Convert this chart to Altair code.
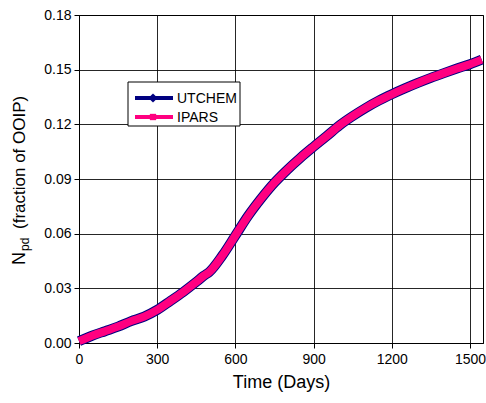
import altair as alt
import pandas as pd

# ---- data ----
time_days = [0, 50, 100, 150, 200, 250, 300, 350, 400, 450, 480, 500, 550, 600, 650,
             700, 750, 800, 850, 900, 950, 1000, 1050, 1100, 1150, 1200, 1250, 1300,
             1350, 1400, 1450, 1500, 1545]
utchem = [0.001, 0.004, 0.0065, 0.009, 0.012, 0.0145, 0.0182, 0.023, 0.028, 0.0335, 0.037,
          0.039, 0.048, 0.059, 0.070, 0.0795, 0.088, 0.0952, 0.1017, 0.1077, 0.1135, 0.1195,
          0.1245, 0.129, 0.133, 0.1365, 0.1397, 0.1427, 0.1455, 0.1481, 0.1506, 0.153, 0.1555]
ipars = [0.001, 0.004, 0.0065, 0.009, 0.012, 0.0145, 0.0182, 0.023, 0.028, 0.0335, 0.037,
         0.039, 0.048, 0.059, 0.070, 0.0795, 0.088, 0.0952, 0.1017, 0.1077, 0.1135, 0.1195,
         0.1245, 0.129, 0.133, 0.1365, 0.1397, 0.1427, 0.1455, 0.1481, 0.1506, 0.153, 0.1555]

series_names = ["UTCHEM", "IPARS"]
series_colors = ["#000080", "#FF0080"]
series_shapes = ["diamond", "square"]
x_ticks = [0, 300, 600, 900, 1200, 1500]
y_ticks = [0.00, 0.03, 0.06, 0.09, 0.12, 0.15, 0.18]
x_title = "Time (Days)"
y_title_main = "N"
y_title_sub = "pd"
y_title_rest = "(fraction of OOIP)"

FONT = "Liberation Sans"

df = pd.DataFrame({
    "t": time_days * 2,
    "v": utchem + ipars,
    "series": [series_names[0]] * len(time_days) + [series_names[1]] * len(time_days),
})

x_enc = alt.X("t:Q", scale=alt.Scale(domain=[0, 1550], nice=False, zero=False),
              axis=alt.Axis(values=x_ticks, format="d", title=x_title, grid=True,
                            gridColor="black", gridOpacity=0.85, domainColor="black",
                            tickColor="black", tickSize=5, labelFontSize=14, labelFont=FONT,
                            labelColor="black", labelPadding=4, labelFlush=False,
                            labelOverlap=False, titleFontSize=18, titleFont=FONT,
                            titleFontWeight="normal", titleColor="black", titlePadding=7))
y_enc = alt.Y("v:Q", scale=alt.Scale(domain=[0, 0.18], nice=False),
              axis=alt.Axis(values=y_ticks, format=".2f", title=None, grid=True,
                            gridColor="black", gridOpacity=0.85, domainColor="black",
                            tickColor="black", tickSize=5, labelFontSize=14, labelFont=FONT,
                            labelColor="black", labelPadding=3, labelFlush=False,
                            labelOverlap=False))

base = alt.Chart(df)
line_ut = base.transform_filter(alt.datum.series == series_names[0]).mark_line(
    color=series_colors[0], strokeWidth=10, strokeCap="butt", interpolate="monotone").encode(
    x=x_enc, y=y_enc)
line_ip = base.transform_filter(alt.datum.series == series_names[1]).mark_line(
    color=series_colors[1], strokeWidth=8, strokeCap="butt", interpolate="monotone").encode(
    x="t:Q", y="v:Q")

one = alt.Data(values=[{"a": 0}])

# legend box
legend_box = alt.Chart(one).mark_rect(fill="white", stroke="black", strokeWidth=1).encode(
    x=alt.value(49), x2=alt.value(161), y=alt.value(67), y2=alt.value(111))

legend_layers = []
for i, (name, col, shp, size) in enumerate(zip(series_names, series_colors, series_shapes, [85, 40])):
    yy = 83 + i * 19
    legend_layers.append(alt.Chart(one).mark_rule(color=col, strokeWidth=4).encode(
        x=alt.value(56), x2=alt.value(94), y=alt.value(yy)))
    legend_layers.append(alt.Chart(one).mark_point(shape=shp, filled=True, color=col,
                                                   size=size, opacity=1).encode(
        x=alt.value(74), y=alt.value(yy)))
    legend_layers.append(alt.Chart(one).mark_text(text=name, font=FONT, fontSize=14,
                                                  align="left", baseline="middle",
                                                  color="black").encode(
        x=alt.value(98), y=alt.value(yy + 1)))

# y-axis title with subscript
yt1 = alt.Chart(one).mark_text(text=y_title_main, font=FONT, fontSize=18, angle=270,
                               align="left", baseline="alphabetic", color="black").encode(
    x=alt.value(-54), y=alt.value(250))
yt2 = alt.Chart(one).mark_text(text=y_title_sub, font=FONT, fontSize=12, angle=270,
                               align="left", baseline="alphabetic", color="black").encode(
    x=alt.value(-50), y=alt.value(236))
yt3 = alt.Chart(one).mark_text(text=y_title_rest, font=FONT, fontSize=17, angle=270,
                               align="left", baseline="alphabetic", color="black").encode(
    x=alt.value(-54), y=alt.value(214))

chart = alt.layer(line_ut, line_ip, legend_box, *legend_layers, yt1, yt2, yt3).properties(
    width=404, height=328, autosize="none",
    padding={"left": 79, "top": 15, "right": 3, "bottom": 60},
    background="white",
).configure_view(stroke="black", strokeWidth=1)

chart.save("out.html", embed_options={"renderer": "svg", "actions": False})
